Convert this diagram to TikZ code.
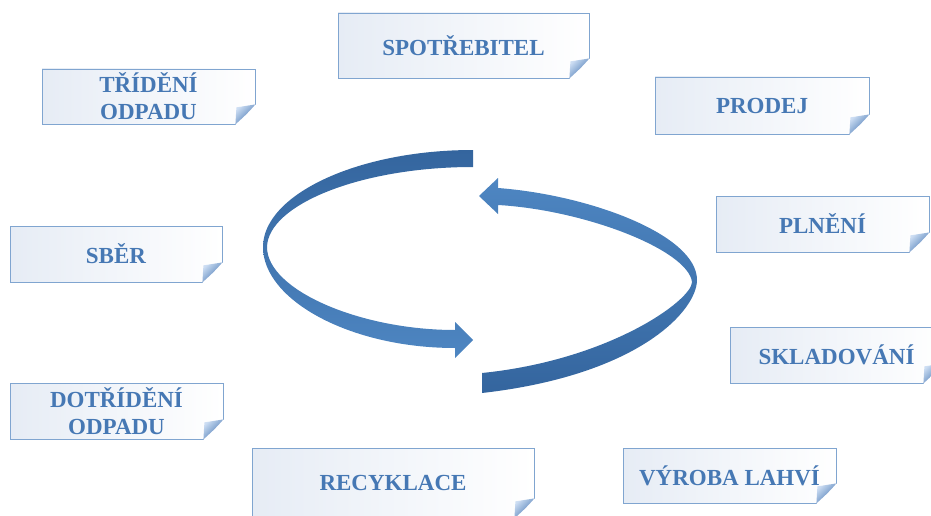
\documentclass[tikz,border=0pt]{standalone}
\usepackage{fontspec}
\setmainfont{Liberation Serif}
\usetikzlibrary{arrows}
\definecolor{boxline}{RGB}{128,165,208}
\definecolor{boxfill}{RGB}{230,236,245}
\definecolor{textblue}{RGB}{70,120,180}
\definecolor{foldlight}{RGB}{205,222,243}
\definecolor{folddark}{RGB}{62,112,175}
\definecolor{arrowdark}{RGB}{52,101,158}
\definecolor{arrowlight}{RGB}{78,134,194}
\tikzset{
  note/.style={draw=boxline, line width=0.8pt, left color=boxfill, right color=white,
    inner sep=0pt, align=center, text=textblue, font=\fontsize{23}{27}\selectfont\bfseries},
  fold/.style={top color=foldlight, bottom color=folddark, shading angle=45},
}

\begin{document}
\begin{tikzpicture}[x=1pt, y=-1pt]
            \useasboundingbox (0,0) rectangle (931,516);
            \clip (0,0) rectangle (931,516);
            % cycle arrows
            \shade[top color=arrowdark, bottom color=arrowlight] (473,150) .. controls (357,150) and (263,195) .. (263,247) .. controls (263,300) and (350,348) .. (455,348) -- (455,358) -- (473,340) -- (455,322) -- (455,330) .. controls (360,330) and (267,290) .. (267,247) .. controls (268,205) and (360,167) .. (473,167) -- cycle;
            \shade[top color=arrowlight, bottom color=arrowdark] (498,188) .. controls (590,195) and (697,235) .. (697,280) .. controls (697,310) and (640,375) .. (482,393) -- (482,373) .. controls (610,360) and (692,300) .. (692,282) .. controls (688,250) and (585,210) .. (498,205) -- (498,214) -- (479,196) -- (498,178) -- cycle;
            % notes
            \node[note, minimum width=251pt, minimum height=65pt] (spotrebitel) at (463.5,45.5) {SPOTŘEBITEL};
            \node[note, minimum width=213pt, minimum height=55pt] (trideni) at (148.5,96.5) {TŘÍDĚNÍ\\ODPADU};
            \node[note, minimum width=212pt, minimum height=56pt] (sber) at (116,254) {SBĚR};
            \node[note, minimum width=214pt, minimum height=57pt] (prodej) at (762,105.5) {PRODEJ};
            \node[note, minimum width=213pt, minimum height=56pt] (plneni) at (822.5,224) {PLNĚNÍ};
            \node[note, minimum width=213pt, minimum height=56pt] (skladovani) at (836.5,355) {SKLADOVÁNÍ};
            \node[note, minimum width=213pt, minimum height=56pt] (dotrideni) at (116.5,411) {DOTŘÍDĚNÍ\\ODPADU};
            \node[note, minimum width=282pt, minimum height=70pt] (recyklace) at (393,483) {RECYKLACE};
            \node[note, minimum width=213pt, minimum height=55pt] (vyroba) at (729.5,475.5) {VÝROBA LAHVÍ};
            % folded corners
            \foreach \n in {spotrebitel,trideni,sber,prodej,plneni,skladovani,dotrideni,recyklace,vyroba} {
                \fill[white, shift={(\n.south east)}] (1.5,1.5) -- (1.5,-21) -- (-21,1.5) -- cycle;
                \shade[fold, shift={(\n.south east)}] (0,-20) .. controls (-8,-11) .. (-20,0) -- (-19,-17) -- cycle;
            }
        \end{tikzpicture}
\end{document}
